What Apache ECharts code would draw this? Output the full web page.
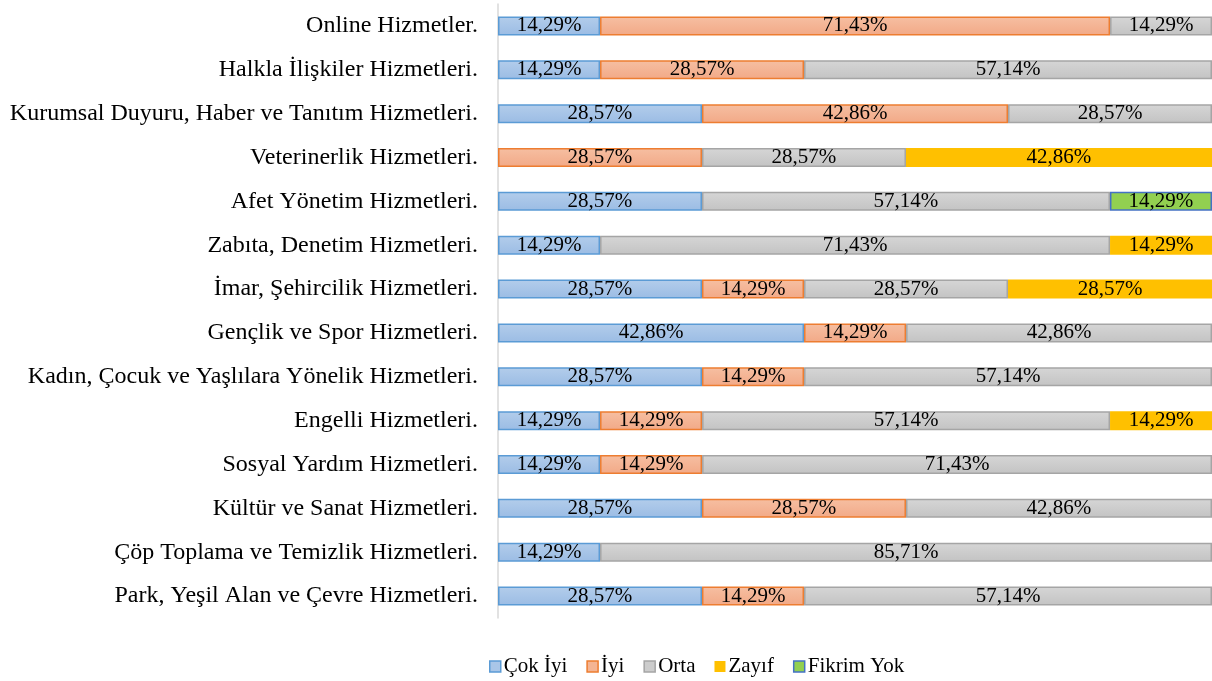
<!DOCTYPE html>
<html>
<head>
<meta charset="utf-8">
<script src="https://cdn.jsdelivr.net/npm/echarts@6/dist/echarts.min.js"></script>
<style>
html, body { margin: 0; padding: 0; background: #fff; }
#main { width: 1212px; height: 681px; }
</style>
</head>
<body>
<div id="main"></div>
<script>
var categories = [
    'Online Hizmetler.',
    'Halkla İlişkiler Hizmetleri.',
    'Kurumsal Duyuru, Haber ve Tanıtım Hizmetleri.',
    'Veterinerlik Hizmetleri.',
    'Afet Yönetim Hizmetleri.',
    'Zabıta, Denetim Hizmetleri.',
    'İmar, Şehircilik Hizmetleri.',
    'Gençlik ve Spor Hizmetleri.',
    'Kadın, Çocuk ve Yaşlılara Yönelik Hizmetleri.',
    'Engelli Hizmetleri.',
    'Sosyal Yardım Hizmetleri.',
    'Kültür ve Sanat Hizmetleri.',
    'Çöp Toplama ve Temizlik Hizmetleri.',
    'Park, Yeşil Alan ve Çevre Hizmetleri.'
];
var cokIyi    = [14.29, 14.29, 28.57, 0, 28.57, 14.29, 28.57, 42.86, 28.57, 14.29, 14.29, 28.57, 14.29, 28.57];
var iyi       = [71.43, 28.57, 42.86, 28.57, 0, 0, 14.29, 14.29, 14.29, 14.29, 14.29, 28.57, 0, 14.29];
var orta      = [14.29, 57.14, 28.57, 28.57, 57.14, 71.43, 28.57, 42.86, 57.14, 57.14, 71.43, 42.86, 85.71, 57.14];
var zayif     = [0, 0, 0, 42.86, 0, 14.29, 28.57, 0, 0, 14.29, 0, 0, 0, 0];
var fikrimYok = [0, 0, 0, 0, 14.29, 0, 0, 0, 0, 0, 0, 0, 0, 0];

var font = '"Liberation Serif", "Times New Roman", serif';

function grad(top, bottom) {
    return new echarts.graphic.LinearGradient(0, 0, 0, 1, [
        {offset: 0, color: top},
        {offset: 1, color: bottom}
    ]);
}

function fmt(p) {
    return p.value.toFixed(2).replace('.', ',') + '%';
}

// zero shares get no bar and no label
function clean(arr) {
    return arr.map(function (v) { return v === 0 ? '-' : v; });
}

function makeSeries(name, data, fill, border) {
    return {
        name: name,
        type: 'bar',
        stack: 'total',
        barWidth: 19,
        data: clean(data),
        itemStyle: {
            color: fill,
            borderColor: border,
            borderWidth: border ? 1.5 : 0
        },
        label: {
            show: true,
            position: 'inside',
            formatter: fmt,
            color: '#000',
            fontFamily: font,
            fontSize: 21
        }
    };
}

var chart = echarts.init(document.getElementById('main'));
var option = {
    animation: false,
    legend: {
        top: 651,
        left: 484,
        itemWidth: 11,
        itemHeight: 11,
        itemGap: 19,
        icon: 'rect',
        textStyle: {fontFamily: font, fontSize: 21, color: '#000', padding: [0, 0, 0, -2]},
        data: [
            {name: 'Çok İyi', itemStyle: {color: '#A9C6E8', borderColor: '#5B9BD5', borderWidth: 1.5}},
            {name: 'İyi', itemStyle: {color: '#F4B493', borderColor: '#ED7D31', borderWidth: 1.5}},
            {name: 'Orta', itemStyle: {color: '#CCCCCC', borderColor: '#A5A5A5', borderWidth: 1.5}},
            {name: 'Zayıf', itemStyle: {color: '#FFC000'}},
            {name: 'Fikrim Yok', itemStyle: {color: '#92D050', borderColor: '#4472C4', borderWidth: 1.5}}
        ]
    },
    grid: {left: 498, right: 0, top: 4, height: 614, containLabel: false},
    xAxis: {
        type: 'value',
        min: 0,
        max: 100,
        show: false
    },
    yAxis: {
        type: 'category',
        inverse: true,
        data: categories,
        axisLine: {show: true, lineStyle: {color: '#D9D9D9', width: 1.5}},
        axisTick: {show: false},
        axisLabel: {
            margin: 20,
            color: '#000',
            fontFamily: font,
            fontSize: 24
        }
    },
    series: [
        makeSeries('Çok İyi', cokIyi, grad('#B3CDEB', '#9BBCE4'), '#5B9BD5'),
        makeSeries('İyi', iyi, grad('#F6BFA2', '#F2A987'), '#ED7D31'),
        makeSeries('Orta', orta, grad('#D6D6D6', '#C3C3C3'), '#A5A5A5'),
        makeSeries('Zayıf', zayif, '#FFC000', null),
        makeSeries('Fikrim Yok', fikrimYok, '#92D050', '#4472C4')
    ]
};
chart.setOption(option);
</script>
</body>
</html>
